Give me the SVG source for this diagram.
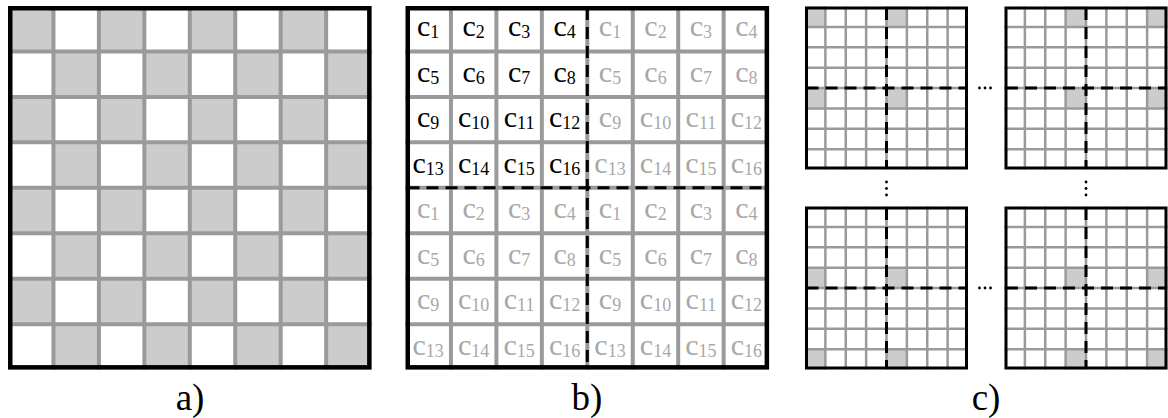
<svg xmlns="http://www.w3.org/2000/svg" xmlns:xlink="http://www.w3.org/1999/xlink" width="1168" height="418" viewBox="0 0 1168 418">
<style>
.gl{stroke:#9a9a9a;stroke-width:4;fill:none}
.gls{stroke:#9a9a9a;stroke-width:2.5;fill:none}
.bd{stroke:#000;stroke-width:4.5;fill:none}
.bds{stroke:#000;stroke-width:3;fill:none}
.dash{stroke:#000;stroke-width:3;stroke-dasharray:12 7;fill:none}
.hl{fill:#cccccc}
.t{font-family:"Liberation Serif","Times New Roman",serif;font-size:30px;text-anchor:middle}
.k{fill:#000}
.g{fill:#a8a8a8}
.s{font-size:18px}
.lab{font-family:"Liberation Serif","Times New Roman",serif;font-size:37px;text-anchor:middle;fill:#000}
.dot{fill:#000}
</style>
<defs>
<pattern id="checker" patternUnits="userSpaceOnUse" x="8" y="6" width="90.9" height="90.9">
<rect x="0" y="0" width="45.45" height="45.45" fill="#cccccc"/>
<rect x="45.45" y="45.45" width="45.45" height="45.45" fill="#cccccc"/>
</pattern>
<g id="biglines">
<path class="gl" d="M45.45 0V363.6M90.9 0V363.6M136.35 0V363.6M181.8 0V363.6M227.25 0V363.6M272.7 0V363.6M318.15 0V363.6M0 45.45H363.6M0 90.9H363.6M0 136.35H363.6M0 181.8H363.6M0 227.25H363.6M0 272.7H363.6M0 318.15H363.6"/>
</g>
<g id="cgrid">
<path class="gls" d="M20.375 0V163M40.75 0V163M61.125 0V163M81.5 0V163M101.875 0V163M122.25 0V163M142.625 0V163M0 20.375H163M0 40.75H163M0 61.125H163M0 81.5H163M0 101.875H163M0 122.25H163M0 142.625H163"/>
<path class="dash" d="M81.5 1.5V161.5M1.5 81.5H161.5"/>
<rect class="bds" x="1.5" y="1.5" width="160" height="160"/>
</g>
</defs>
<rect x="0" y="0" width="1168" height="418" fill="#fff"/>

<g id="panel-a">
<rect x="8" y="6" width="363.6" height="363.6" fill="url(#checker)"/>
<use xlink:href="#biglines" x="8" y="6"/>
<rect class="bd" x="10.25" y="8.25" width="359.1" height="359.1"/>
</g>

<g id="panel-b">
<rect x="405.5" y="6" width="363.6" height="363.6" fill="#fff"/>
<use xlink:href="#biglines" x="405.5" y="6"/>
<path class="dash" d="M587.3 8V367.6M407.5 187.8H767.1"/>
<rect class="bd" x="407.75" y="8.25" width="359.1" height="359.1"/>
<g class="t" font-family="Liberation Serif, serif">
<text class="k" x="428.2" y="36.4">c<tspan class="s" dy="2">1</tspan></text>
<text class="k" x="473.7" y="36.4">c<tspan class="s" dy="2">2</tspan></text>
<text class="k" x="519.1" y="36.4">c<tspan class="s" dy="2">3</tspan></text>
<text class="k" x="564.6" y="36.4">c<tspan class="s" dy="2">4</tspan></text>
<text class="g" x="610.0" y="36.4">c<tspan class="s" dy="2">1</tspan></text>
<text class="g" x="655.5" y="36.4">c<tspan class="s" dy="2">2</tspan></text>
<text class="g" x="700.9" y="36.4">c<tspan class="s" dy="2">3</tspan></text>
<text class="g" x="746.4" y="36.4">c<tspan class="s" dy="2">4</tspan></text>

<text class="k" x="428.2" y="81.9">c<tspan class="s" dy="2">5</tspan></text>
<text class="k" x="473.7" y="81.9">c<tspan class="s" dy="2">6</tspan></text>
<text class="k" x="519.1" y="81.9">c<tspan class="s" dy="2">7</tspan></text>
<text class="k" x="564.6" y="81.9">c<tspan class="s" dy="2">8</tspan></text>
<text class="g" x="610.0" y="81.9">c<tspan class="s" dy="2">5</tspan></text>
<text class="g" x="655.5" y="81.9">c<tspan class="s" dy="2">6</tspan></text>
<text class="g" x="700.9" y="81.9">c<tspan class="s" dy="2">7</tspan></text>
<text class="g" x="746.4" y="81.9">c<tspan class="s" dy="2">8</tspan></text>

<text class="k" x="428.2" y="127.3">c<tspan class="s" dy="2">9</tspan></text>
<text class="k" x="473.7" y="127.3">c<tspan class="s" dy="2">10</tspan></text>
<text class="k" x="519.1" y="127.3">c<tspan class="s" dy="2">11</tspan></text>
<text class="k" x="564.6" y="127.3">c<tspan class="s" dy="2">12</tspan></text>
<text class="g" x="610.0" y="127.3">c<tspan class="s" dy="2">9</tspan></text>
<text class="g" x="655.5" y="127.3">c<tspan class="s" dy="2">10</tspan></text>
<text class="g" x="700.9" y="127.3">c<tspan class="s" dy="2">11</tspan></text>
<text class="g" x="746.4" y="127.3">c<tspan class="s" dy="2">12</tspan></text>

<text class="k" x="428.2" y="172.8">c<tspan class="s" dy="2">13</tspan></text>
<text class="k" x="473.7" y="172.8">c<tspan class="s" dy="2">14</tspan></text>
<text class="k" x="519.1" y="172.8">c<tspan class="s" dy="2">15</tspan></text>
<text class="k" x="564.6" y="172.8">c<tspan class="s" dy="2">16</tspan></text>
<text class="g" x="610.0" y="172.8">c<tspan class="s" dy="2">13</tspan></text>
<text class="g" x="655.5" y="172.8">c<tspan class="s" dy="2">14</tspan></text>
<text class="g" x="700.9" y="172.8">c<tspan class="s" dy="2">15</tspan></text>
<text class="g" x="746.4" y="172.8">c<tspan class="s" dy="2">16</tspan></text>

<text class="g" x="428.2" y="218.2">c<tspan class="s" dy="2">1</tspan></text>
<text class="g" x="473.7" y="218.2">c<tspan class="s" dy="2">2</tspan></text>
<text class="g" x="519.1" y="218.2">c<tspan class="s" dy="2">3</tspan></text>
<text class="g" x="564.6" y="218.2">c<tspan class="s" dy="2">4</tspan></text>
<text class="g" x="610.0" y="218.2">c<tspan class="s" dy="2">1</tspan></text>
<text class="g" x="655.5" y="218.2">c<tspan class="s" dy="2">2</tspan></text>
<text class="g" x="700.9" y="218.2">c<tspan class="s" dy="2">3</tspan></text>
<text class="g" x="746.4" y="218.2">c<tspan class="s" dy="2">4</tspan></text>

<text class="g" x="428.2" y="263.7">c<tspan class="s" dy="2">5</tspan></text>
<text class="g" x="473.7" y="263.7">c<tspan class="s" dy="2">6</tspan></text>
<text class="g" x="519.1" y="263.7">c<tspan class="s" dy="2">7</tspan></text>
<text class="g" x="564.6" y="263.7">c<tspan class="s" dy="2">8</tspan></text>
<text class="g" x="610.0" y="263.7">c<tspan class="s" dy="2">5</tspan></text>
<text class="g" x="655.5" y="263.7">c<tspan class="s" dy="2">6</tspan></text>
<text class="g" x="700.9" y="263.7">c<tspan class="s" dy="2">7</tspan></text>
<text class="g" x="746.4" y="263.7">c<tspan class="s" dy="2">8</tspan></text>

<text class="g" x="428.2" y="309.1">c<tspan class="s" dy="2">9</tspan></text>
<text class="g" x="473.7" y="309.1">c<tspan class="s" dy="2">10</tspan></text>
<text class="g" x="519.1" y="309.1">c<tspan class="s" dy="2">11</tspan></text>
<text class="g" x="564.6" y="309.1">c<tspan class="s" dy="2">12</tspan></text>
<text class="g" x="610.0" y="309.1">c<tspan class="s" dy="2">9</tspan></text>
<text class="g" x="655.5" y="309.1">c<tspan class="s" dy="2">10</tspan></text>
<text class="g" x="700.9" y="309.1">c<tspan class="s" dy="2">11</tspan></text>
<text class="g" x="746.4" y="309.1">c<tspan class="s" dy="2">12</tspan></text>

<text class="g" x="428.2" y="354.6">c<tspan class="s" dy="2">13</tspan></text>
<text class="g" x="473.7" y="354.6">c<tspan class="s" dy="2">14</tspan></text>
<text class="g" x="519.1" y="354.6">c<tspan class="s" dy="2">15</tspan></text>
<text class="g" x="564.6" y="354.6">c<tspan class="s" dy="2">16</tspan></text>
<text class="g" x="610.0" y="354.6">c<tspan class="s" dy="2">13</tspan></text>
<text class="g" x="655.5" y="354.6">c<tspan class="s" dy="2">14</tspan></text>
<text class="g" x="700.9" y="354.6">c<tspan class="s" dy="2">15</tspan></text>
<text class="g" x="746.4" y="354.6">c<tspan class="s" dy="2">16</tspan></text>
</g>
</g>

<g id="panel-c-top-left">
<rect class="hl" x="805" y="6.5" width="20.375" height="20.375"/>
<rect class="hl" x="886.5" y="6.5" width="20.375" height="20.375"/>
<rect class="hl" x="805" y="88" width="20.375" height="20.375"/>
<rect class="hl" x="886.5" y="88" width="20.375" height="20.375"/>
<use xlink:href="#cgrid" x="805" y="6.5"/>
</g>
<g id="panel-c-top-right">
<rect class="hl" x="1065.625" y="6.5" width="20.375" height="20.375"/>
<rect class="hl" x="1147.125" y="6.5" width="20.375" height="20.375"/>
<rect class="hl" x="1065.625" y="88" width="20.375" height="20.375"/>
<rect class="hl" x="1147.125" y="88" width="20.375" height="20.375"/>
<use xlink:href="#cgrid" x="1004.5" y="6.5"/>
</g>
<g id="panel-c-bottom-left">
<rect class="hl" x="805" y="267.625" width="20.375" height="20.375"/>
<rect class="hl" x="886.5" y="267.625" width="20.375" height="20.375"/>
<rect class="hl" x="805" y="349.125" width="20.375" height="20.375"/>
<rect class="hl" x="886.5" y="349.125" width="20.375" height="20.375"/>
<use xlink:href="#cgrid" x="805" y="206.5"/>
</g>
<g id="panel-c-bottom-right">
<rect class="hl" x="1065.625" y="267.625" width="20.375" height="20.375"/>
<rect class="hl" x="1147.125" y="267.625" width="20.375" height="20.375"/>
<rect class="hl" x="1065.625" y="349.125" width="20.375" height="20.375"/>
<rect class="hl" x="1147.125" y="349.125" width="20.375" height="20.375"/>
<use xlink:href="#cgrid" x="1004.5" y="206.5"/>
</g>

<g id="ellipses">
<circle class="dot" cx="979.5" cy="88" r="1.4"/>
<circle class="dot" cx="985" cy="88" r="1.4"/>
<circle class="dot" cx="990.5" cy="88" r="1.4"/>
<circle class="dot" cx="979.5" cy="288" r="1.4"/>
<circle class="dot" cx="985" cy="288" r="1.4"/>
<circle class="dot" cx="990.5" cy="288" r="1.4"/>
<circle class="dot" cx="886.5" cy="182" r="1.4"/>
<circle class="dot" cx="886.5" cy="188.5" r="1.4"/>
<circle class="dot" cx="886.5" cy="195" r="1.4"/>
<circle class="dot" cx="1086" cy="182" r="1.4"/>
<circle class="dot" cx="1086" cy="188.5" r="1.4"/>
<circle class="dot" cx="1086" cy="195" r="1.4"/>
</g>

<g id="connectors"></g>

<g id="labels" font-family="Liberation Serif, serif">
<text class="lab" x="190" y="410">a)</text>
<text class="lab" x="587" y="410">b)</text>
<text class="lab" x="986" y="410">c)</text>
</g>
</svg>
